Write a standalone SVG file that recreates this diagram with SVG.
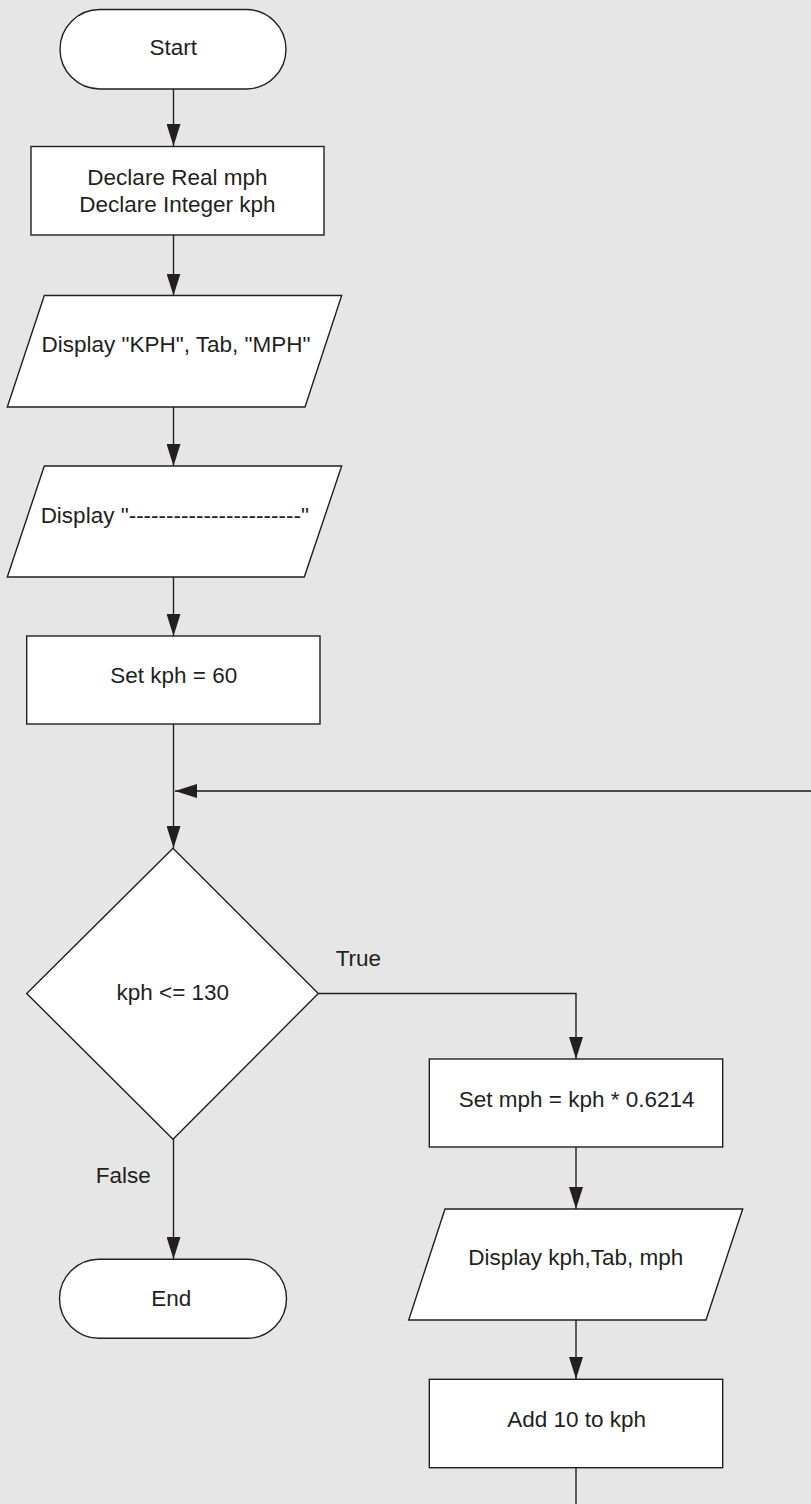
<svg xmlns="http://www.w3.org/2000/svg" width="811" height="1504" viewBox="0 0 811 1504">
<style>
.shape{fill:#ffffff;stroke:#231f20;stroke-width:1.4}
.line{fill:none;stroke:#231f20;stroke-width:1.4}
.loop{fill:none;stroke:#4a4a4a;stroke-width:2}
text{font-family:"Liberation Sans",Arial,Helvetica,sans-serif;font-size:22.5px;fill:#231f20}
.c{text-anchor:middle}
</style>
<defs>
<marker id="arr" viewBox="0 0 22 14" refX="22" refY="7" markerWidth="22" markerHeight="14" markerUnits="userSpaceOnUse" orient="auto">
<path d="M0,0 L22,7 L0,14 z" fill="#231f20"/>
</marker>
</defs>
<rect x="0" y="0" width="811" height="1504" fill="#e6e6e6"/>
<g id="connectors">
<line class="line" x1="173.5" y1="89" x2="173.5" y2="146" marker-end="url(#arr)"/>
<line class="line" x1="173.5" y1="235" x2="173.5" y2="295.5" marker-end="url(#arr)"/>
<line class="line" x1="173.5" y1="407" x2="173.5" y2="466" marker-end="url(#arr)"/>
<line class="line" x1="173.5" y1="577" x2="173.5" y2="636" marker-end="url(#arr)"/>
<line class="line" x1="173.5" y1="724" x2="173.5" y2="848" marker-end="url(#arr)"/>
<line class="loop" x1="811" y1="791" x2="175" y2="791" marker-end="url(#arr)"/>
<polyline class="line" points="318.5,993.5 576,993.5 576,1059" marker-end="url(#arr)"/>
<line class="line" x1="173.5" y1="1139" x2="173.5" y2="1259" marker-end="url(#arr)"/>
<line class="line" x1="576" y1="1147" x2="576" y2="1209" marker-end="url(#arr)"/>
<line class="line" x1="576" y1="1320" x2="576" y2="1379" marker-end="url(#arr)"/>
<line class="line" x1="576" y1="1468" x2="576" y2="1504"/>
<text x="335.7" y="966">True</text>
<text x="95.7" y="1183">False</text>
</g>
<g id="start">
<rect class="shape" x="60" y="9.5" width="226" height="79.5" rx="39.75" ry="39.75"/>
<text class="c" x="173.3" y="55">Start</text>
</g>
<g id="declare">
<rect class="shape" x="31" y="146.5" width="293" height="88.5"/>
<text class="c" x="177.4" y="185">Declare Real mph</text>
<text class="c" x="177.4" y="212">Declare Integer kph</text>
</g>
<g id="display-header">
<polygon class="shape" points="44.3,295.5 341.7,295.5 305,407 7.3,407"/>
<text class="c" x="176" y="352">Display "KPH", Tab, "MPH"</text>
</g>
<g id="display-dashes">
<polygon class="shape" points="44.3,466 341.7,466 304.3,577 7.3,577"/>
<text class="c" x="174.8" y="523">Display "-----------------------"</text>
</g>
<g id="set-kph">
<rect class="shape" x="26.7" y="636" width="293.3" height="88"/>
<text class="c" x="173.8" y="683">Set kph = 60</text>
</g>
<g id="decision">
<polygon class="shape" points="173,848.3 318.3,993.5 173,1139.3 26.7,993.5"/>
<text class="c" x="172.8" y="1000">kph &lt;= 130</text>
</g>
<g id="end">
<rect class="shape" x="59.5" y="1259.3" width="227" height="79" rx="39.5" ry="39.5"/>
<text class="c" x="171.2" y="1306">End</text>
</g>
<g id="set-mph">
<rect class="shape" x="429.3" y="1059" width="293.4" height="88"/>
<text class="c" x="576.7" y="1107">Set mph = kph * 0.6214</text>
</g>
<g id="display-values">
<polygon class="shape" points="445,1209 742.7,1209 706,1320 408.7,1320"/>
<text class="c" x="575.8" y="1265">Display kph,Tab, mph</text>
</g>
<g id="add-10">
<rect class="shape" x="429.3" y="1379.3" width="293.4" height="88.4"/>
<text class="c" x="576.7" y="1427">Add 10 to kph</text>
</g>
</svg>
